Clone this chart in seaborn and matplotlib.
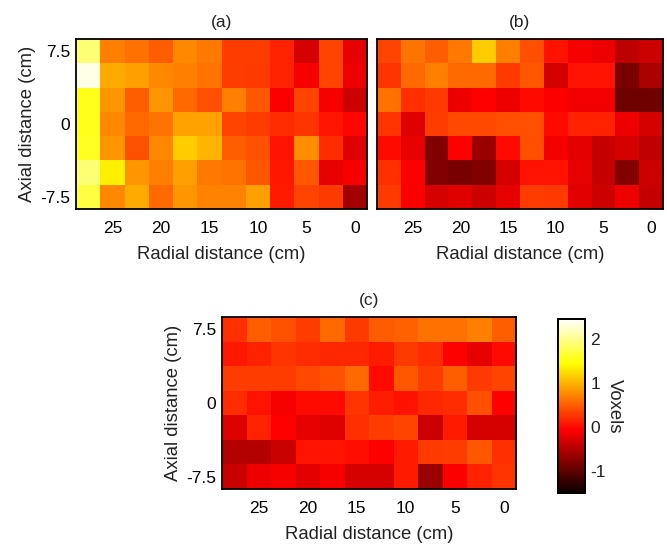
import matplotlib
matplotlib.use("Agg")
import matplotlib.pyplot as plt
import numpy as np
import pandas as pd
import seaborn as sns

sns.set_style("white")
plt.rcParams["font.family"] = ["Liberation Sans", "DejaVu Sans"]

# Grid coordinates (cm): radial columns (descending) and axial rows (top to bottom)
radial = [27.5, 25, 22.5, 20, 17.5, 15, 12.5, 10, 7.5, 5, 2.5, 0]
axial = [7.5, 5, 2.5, 0, -2.5, -5, -7.5]

radial_ticks = [25, 20, 15, 10, 5, 0]
axial_ticks = [7.5, 5, 0, -5, -7.5]
axial_ticklabels = ["7.5", "", "0", "", "-7.5"]

vmin, vmax = -1.5, 2.45
cbar_ticks = [-1, 0, 1, 2]

# Voxel values per panel, one list per axial row
panel_a = [
    [1.90, 0.70, 0.60, 0.50, 0.75, 0.65, 0.30, 0.30, 0.15, -0.30, 0.35, -0.20],
    [2.35, 0.95, 0.88, 0.75, 0.70, 0.62, 0.30, 0.28, 0.15, -0.10, 0.35, -0.15],
    [1.55, 0.82, 0.50, 0.82, 0.56, 0.40, 0.70, 0.45, -0.07, 0.35, -0.10, -0.35],
    [1.55, 0.75, 0.56, 0.62, 0.90, 0.90, 0.35, 0.30, 0.20, 0.25, 0.07, -0.02],
    [1.58, 0.82, 0.40, 0.75, 1.15, 1.00, 0.50, 0.42, 0.05, 0.78, 0.20, -0.25],
    [1.90, 1.35, 0.82, 0.70, 0.88, 0.65, 0.62, 0.45, 0.08, 0.45, -0.20, -0.10],
    [1.70, 0.75, 0.95, 0.56, 0.82, 0.72, 0.72, 0.88, 0.10, 0.35, 0.28, -0.60],
]
panel_b = [
    [0.35, 0.62, 0.50, 0.65, 1.15, 0.70, 0.40, 0.05, -0.10, -0.15, -0.45, -0.35],
    [0.25, 0.56, 0.70, 0.56, 0.56, 0.28, 0.45, -0.30, 0.05, 0.05, -0.85, -0.55],
    [0.60, 0.22, 0.28, -0.15, -0.05, -0.15, 0.00, -0.07, -0.13, -0.13, -0.90, -0.90],
    [0.25, -0.25, 0.30, 0.37, 0.37, 0.40, 0.40, 0.00, 0.15, 0.15, -0.15, -0.30],
    [0.00, -0.20, -0.80, -0.05, -0.65, 0.00, 0.40, -0.12, -0.22, -0.40, -0.30, -0.45],
    [0.22, -0.05, -0.78, -0.85, -0.80, -0.30, 0.05, 0.05, -0.20, -0.40, -0.78, -0.35],
    [0.28, -0.07, -0.30, -0.25, -0.35, -0.20, 0.30, 0.28, -0.22, -0.35, -0.15, -0.40],
]
panel_c = [
    [0.22, 0.50, 0.40, 0.30, 0.56, 0.28, 0.48, 0.52, 0.60, 0.60, 0.70, 0.50],
    [0.08, 0.15, 0.25, 0.20, 0.18, 0.18, 0.10, 0.28, 0.20, -0.05, -0.20, 0.00],
    [0.30, 0.30, 0.30, 0.37, 0.42, 0.56, 0.00, 0.45, 0.30, 0.50, 0.28, 0.35],
    [0.20, 0.05, -0.10, 0.00, 0.00, 0.25, 0.12, 0.05, 0.18, 0.20, 0.40, -0.05],
    [-0.25, 0.15, -0.05, -0.20, -0.25, 0.22, 0.30, 0.35, -0.35, 0.10, -0.30, -0.30],
    [-0.50, -0.50, -0.38, 0.05, 0.05, 0.02, -0.05, 0.10, 0.28, 0.30, 0.45, 0.22],
    [-0.38, -0.15, -0.10, -0.22, -0.10, -0.30, -0.30, 0.10, -0.65, -0.07, 0.15, 0.25],
]

W, H = 667, 546
fig = plt.figure(figsize=(W / 100, H / 100), dpi=100)


def box(left, top, right, bottom):
    return [left / W, 1 - bottom / H, (right - left) / W, (bottom - top) / H]


FS_TICK = 12.5
FS_LABEL = 13.3
TXT = "#222222"


def draw(ax, values, title, ylabel=True, cbar_ax=None):
    df = pd.DataFrame(values, index=axial, columns=radial)
    sns.heatmap(df, ax=ax, cmap="hot", vmin=vmin, vmax=vmax,
                cbar=cbar_ax is not None, cbar_ax=cbar_ax,
                xticklabels=False, yticklabels=False)
    # ticks placed at the cell centres of the labelled coordinates
    xpos = [radial.index(v) + 0.5 for v in radial_ticks]
    ypos = [axial.index(v) + 0.5 for v in axial_ticks]
    ax.set_xticks(xpos)
    ax.set_xticklabels([str(v) for v in radial_ticks], fontsize=FS_TICK, color=TXT)
    ax.set_yticks(ypos)
    if ylabel:
        ax.set_yticklabels(axial_ticklabels, fontsize=FS_TICK, color=TXT)
        ax.set_ylabel("Axial distance (cm)", fontsize=FS_LABEL, labelpad=3, color=TXT)
    else:
        ax.set_yticklabels([])
        ax.set_ylabel("")
    ax.set_xlabel("Radial distance (cm)", fontsize=FS_LABEL, labelpad=7, color=TXT)
    ax.tick_params(direction="in", length=3, width=1, top=True, right=True,
                   bottom=True, left=True, colors="black")
    ax.tick_params(axis="x", pad=8.5)
    ax.tick_params(axis="y", pad=4)
    for s in ax.spines.values():
        s.set_visible(True)
        s.set_linewidth(1.3)
        s.set_color("black")
    ax.set_title(title, fontsize=FS_TICK, pad=9, color=TXT)


ax_a = fig.add_axes(box(76, 39, 367, 209))
ax_b = fig.add_axes(box(377, 39, 663, 209))
ax_c = fig.add_axes(box(222, 317, 516, 489))
cax = fig.add_axes(box(558, 319, 585, 493))

draw(ax_a, panel_a, "(a)")
draw(ax_b, panel_b, "(b)", ylabel=False)
draw(ax_c, panel_c, "(c)", cbar_ax=cax)

cax.set_yticks(cbar_ticks)
cax.set_yticklabels([str(t) for t in cbar_ticks], fontsize=FS_TICK, color=TXT)
cax.tick_params(direction="in", length=3, width=1, right=True, left=False, pad=4)
cax.set_ylabel("Voxels", fontsize=FS_LABEL, rotation=-90, labelpad=12, color=TXT)
cax.yaxis.set_label_position("right")
for s in cax.spines.values():
    s.set_visible(True)
    s.set_linewidth(1.3)
    s.set_color("black")

fig.savefig("out.png", dpi=100, facecolor="white")
